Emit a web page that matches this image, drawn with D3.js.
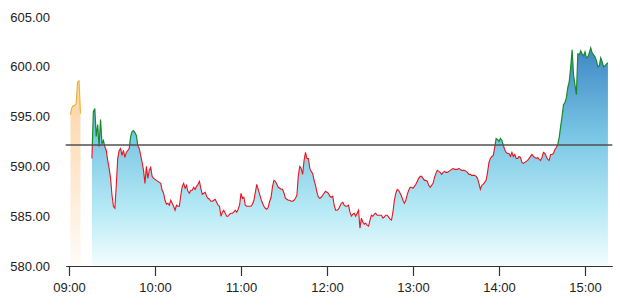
<!DOCTYPE html>
<html>
<head>
<meta charset="utf-8">
<script src="https://cdn.jsdelivr.net/npm/d3@7"></script>
<style>
  html, body { margin: 0; padding: 0; background: #fff; }
  svg { display: block; font-family: "Liberation Sans", Arial, Helvetica, sans-serif; }
</style>
</head>
<body>
<svg id="chart" width="620" height="305"></svg>
<script>
// ---------------- data ----------------
const xDomain = ["08:57:42", "15:19:03"];
const yDomain = [580, 605];
const yTicks = [580, 585, 590, 595, 600, 605];
const xTickTimes = ["09:00", "10:00", "11:00", "12:00", "13:00", "14:00", "15:00"];
const refValue = 592.15;

// pre-market series (one value per minute)
const preStart = "09:01";
const preValues = [595.2, 595.9, 596.1, 596.1, 596.3, 598.5, 598.6, 595.3];

// main session (one value per minute from 09:16)
const mainStart = "09:16";
const mainValues = [
  590.8,595.5,595.8,593.0,594.2,592.0,594.7,592.3,592.6,592.0,
  591.6,590.6,589.8,588.8,587.1,586.0,585.8,588.1,590.8,591.6,
  591.8,591.1,591.6,590.9,591.4,591.6,591.8,593.0,593.5,593.6,
  593.4,593.1,592.1,591.8,591.1,590.4,589.6,588.3,590.0,588.8,
  589.6,589.9,589.0,588.8,
  588.7,588.6,588.5,588.4,588.3,587.6,587.3,586.6,586.2,586.3,
  586.1,586.6,586.3,586.0,585.6,586.1,586.0,586.0,587.1,588.0,
  588.3,587.8,588.1,587.5,587.3,587.6,587.6,587.9,587.7,588.0,
  588.2,588.5,587.8,587.2,587.3,587.4,587.0,586.8,586.7,586.5,
  586.5,586.6,586.7,586.4,586.1,586.0,585.0,585.4,585.6,585.3,
  585.0,585.0,585.2,585.3,585.3,585.4,585.6,585.4,585.7,586.1,
  587.3,586.8,586.9,586.1,586.0,586.0,586.0,586.0,586.2,586.6,
  587.4,588.2,587.7,587.2,586.7,586.3,586.0,585.8,585.7,585.9,
  586.5,586.9,588.0,588.6,588.5,588.2,587.9,587.8,587.7,587.7,
  587.3,586.8,586.7,586.6,586.6,586.5,586.5,586.6,586.8,587.1,
  589.1,590.0,589.8,589.2,590.6,591.4,590.8,590.8,589.8,589.5,
  589.3,588.6,588.1,587.4,586.9,586.8,586.9,587.1,587.3,587.5,
  587.4,587.3,587.0,586.9,587.0,586.1,585.6,585.6,585.7,586.0,
  586.3,586.4,586.1,586.0,586.0,586.1,585.4,585.0,585.2,585.3,
  585.0,585.3,585.6,583.8,584.8,584.4,584.2,584.3,584.1,584.0,
  584.6,585.1,585.0,585.2,585.3,585.1,585.1,585.1,585.1,584.8,
  584.9,585.1,585.1,584.9,584.7,584.6,585.4,586.6,587.3,587.7,
  587.6,587.3,587.0,586.6,586.3,586.6,587.2,587.6,587.9,587.9,
  587.8,588.0,588.2,588.5,588.8,589.0,589.0,588.8,588.6,588.6,
  588.5,588.1,587.9,588.1,588.3,588.9,589.3,589.6,589.5,589.4,
  589.2,589.4,589.5,589.4,589.4,589.5,589.6,589.7,589.8,589.7,
  589.7,589.7,589.8,589.7,589.6,589.6,589.6,589.5,589.4,589.2,
  589.2,589.1,589.1,589.1,589.0,588.8,588.3,587.7,588.1,588.2,
  588.4,588.6,589.4,590.4,590.8,591.0,591.1,591.9,592.8,592.7,
  592.5,592.8,592.6,592.1,591.7,591.4,591.3,591.3,591.0,591.4,
  591.0,591.2,590.8,590.8,591.0,590.9,590.4,590.3,590.4,590.5,
  590.6,590.8,591.0,591.2,591.0,590.9,590.8,590.9,590.7,590.6,
  590.9,591.4,591.3,591.0,590.7,590.6,591.2,591.2,591.3,591.7,
  591.9,592.2,592.9,594.0,595.0,596.2,596.4,596.9,597.9,598.5,
  599.9,601.7,599.2,598.2,597.2,601.3,601.2,601.6,601.3,601.1,
  601.5,600.9,601.0,601.4,601.9,601.4,601.2,601.0,600.6,600.0,
  600.1,600.9,600.5,600.0,600.1,600.3,600.4
];

// ---------------- chart ----------------
const svg = d3.select("#chart");
const parseHMS = d3.timeParse("%H:%M:%S");
const parseHM = d3.timeParse("%H:%M");

const x = d3.scaleTime().domain(xDomain.map(parseHMS)).range([65.7, 612.3]);
const y = d3.scaleLinear().domain(yDomain).range([266, 17]);

function toSeries(start, vals) {
  const t0 = parseHM(start);
  return vals.map((v, i) => ({ t: d3.timeMinute.offset(t0, i), v }));
}
const pre = toSeries(preStart, preValues);
const main = toSeries(mainStart, mainValues);

const defs = svg.append("defs");
const gMain = defs.append("linearGradient").attr("id", "gMain")
  .attr("gradientUnits", "userSpaceOnUse")
  .attr("x1", 0).attr("x2", 0).attr("y1", y(602)).attr("y2", y(580));
[["0%", "#3f86c6"], ["40%", "#78c6e4"], ["75%", "#b8eaf6"], ["100%", "#f4fdff"]]
  .forEach(([o, c]) => gMain.append("stop").attr("offset", o).attr("stop-color", c));

const gPre = defs.append("linearGradient").attr("id", "gPre")
  .attr("gradientUnits", "userSpaceOnUse")
  .attr("x1", 0).attr("x2", 0).attr("y1", y(596)).attr("y2", y(580));
[["0%", "#fdd8ae"], ["50%", "#feead3"], ["100%", "#fffcf8"]]
  .forEach(([o, c]) => gPre.append("stop").attr("offset", o).attr("stop-color", c));

defs.append("clipPath").attr("id", "above").append("rect")
  .attr("x", 0).attr("y", 0).attr("width", 620).attr("height", y(refValue));
defs.append("clipPath").attr("id", "below").append("rect")
  .attr("x", 0).attr("y", y(refValue)).attr("width", 620).attr("height", 305 - y(refValue));

const area = d3.area().x(d => x(d.t)).y0(y(580)).y1(d => y(d.v));
const line = d3.line().x(d => x(d.t)).y(d => y(d.v));

// areas
svg.append("path").datum(pre).attr("d", area).attr("fill", "url(#gPre)");
svg.append("path").datum(main).attr("d", area).attr("fill", "url(#gMain)");

// lines
svg.append("path").datum(pre).attr("d", line)
  .attr("fill", "none").attr("stroke", "#f2b233").attr("stroke-width", 1.2);
svg.append("path").datum(main).attr("d", line).attr("clip-path", "url(#above)")
  .attr("fill", "none").attr("stroke", "#178a2b").attr("stroke-width", 1.2);
svg.append("path").datum(main).attr("d", line).attr("clip-path", "url(#below)")
  .attr("fill", "none").attr("stroke", "#e8141e").attr("stroke-width", 1.1);

// reference line
svg.append("line")
  .attr("x1", x.range()[0]).attr("x2", x.range()[1])
  .attr("y1", y(refValue)).attr("y2", y(refValue))
  .attr("stroke", "#505050").attr("stroke-width", 1.3);

// y axis
const yAxis = svg.append("g").attr("transform", "translate(50,0)")
  .call(d3.axisLeft(y).tickValues(yTicks).tickFormat(d3.format(".2f")).tickSize(0).tickPadding(0));
yAxis.select(".domain").remove();
yAxis.selectAll("text").attr("font-size", 13).attr("fill", "#222")
  .attr("font-family", "'Liberation Sans', Arial, sans-serif");

// x axis
const xAxis = svg.append("g").attr("transform", `translate(0,${y(580)})`)
  .call(d3.axisBottom(x).tickValues(xTickTimes.map(parseHM))
    .tickFormat(d3.timeFormat("%H:%M")).tickSizeInner(10).tickSizeOuter(0).tickPadding(7));
xAxis.select(".domain").attr("stroke", "#333").attr("stroke-width", 1.2);
xAxis.selectAll(".tick line").attr("stroke", "#333").attr("stroke-width", 1.2);
xAxis.selectAll("text").attr("font-size", 13).attr("fill", "#222")
  .attr("font-family", "'Liberation Sans', Arial, sans-serif");
</script>
</body>
</html>
